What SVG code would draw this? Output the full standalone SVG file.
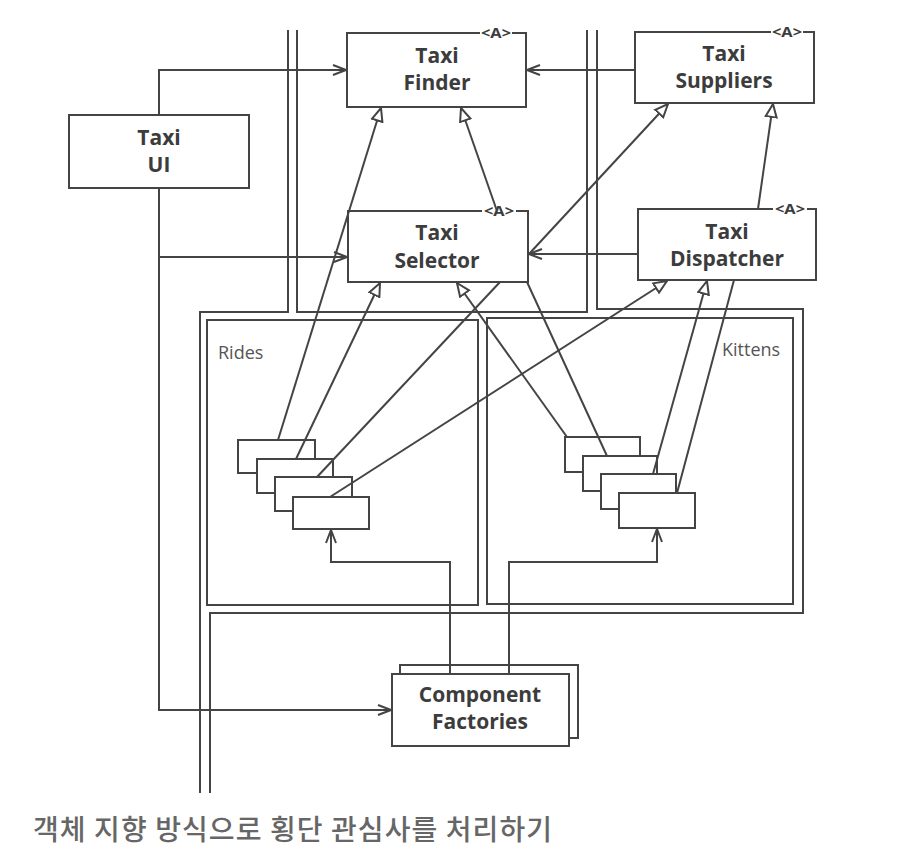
<svg xmlns="http://www.w3.org/2000/svg" width="914" height="868" viewBox="0 0 914 868">
<style>
.ln{fill:none;stroke:#444;stroke-width:2}
.box{fill:#fff;stroke:#444;stroke-width:2}
.t{font-family:"Open Sans","DejaVu Sans",sans-serif;font-weight:700;font-size:21px;fill:#3c3c3c;text-anchor:middle}
.a{font-size:14px}
.lab{font-family:"Open Sans","DejaVu Sans",sans-serif;font-size:18px;fill:#555}
.cap{font-family:"Noto Sans CJK KR","Noto Sans",sans-serif;font-size:28px;font-weight:500;fill:#666}
</style>
<defs>
<marker id="open" markerWidth="15" markerHeight="12" refX="14" refY="6" orient="auto" markerUnits="userSpaceOnUse"><path d="M1,1 L14,6 L1,11" fill="none" stroke="#444" stroke-width="2"/></marker>
<marker id="tri" markerWidth="16" markerHeight="14" refX="14" refY="7" orient="auto" markerUnits="userSpaceOnUse"><path d="M1,1.5 L14,7 L1,12.5 z" fill="#fff" stroke="#444" stroke-width="2"/></marker>
</defs>
<rect width="914" height="868" fill="#fff"/>
<g id="boundaries">
<path class="ln" d="M288,30 V312 H200 V793"/>
<path class="ln" d="M297,30 V312 H587 V30"/>
<path class="ln" d="M597,30 V309 H803 V613 H210 V793"/>
</g>
<g id="rides">
<rect class="box" x="207" y="320" width="271" height="285"/>
<text class="lab" x="218" y="359">Rides</text>
</g>
<g id="kittens">
<rect class="box" x="487" y="318" width="306" height="286"/>
<text class="lab" x="722" y="356">Kittens</text>
</g>
<g id="taxi-finder">
<path class="box" d="M480,33 H347 V107 H526 V33 H512"/>
<text class="t a" x="496" y="38" textLength="30" lengthAdjust="spacingAndGlyphs">&lt;A&gt;</text>
<text class="t" x="437" y="63">Taxi</text>
<text class="t" x="437" y="90">Finder</text>
</g>
<g id="taxi-suppliers">
<path class="box" d="M771,32 H635 V103 H814 V32 H803"/>
<text class="t a" x="787" y="37" textLength="30" lengthAdjust="spacingAndGlyphs">&lt;A&gt;</text>
<text class="t" x="724" y="61">Taxi</text>
<text class="t" x="724" y="88">Suppliers</text>
</g>
<g id="taxi-ui">
<rect class="box" x="69" y="115" width="180" height="73"/>
<text class="t" x="159" y="145">Taxi</text>
<text class="t" x="159" y="172">UI</text>
</g>
<g id="taxi-selector">
<path class="box" d="M482,211 H348 V282 H528 V211 H516"/>
<text class="t a" x="499" y="216" textLength="30" lengthAdjust="spacingAndGlyphs">&lt;A&gt;</text>
<text class="t" x="437" y="240">Taxi</text>
<text class="t" x="437" y="268">Selector</text>
</g>
<g id="taxi-dispatcher">
<path class="box" d="M773,209 H638 V280 H816 V209 H807"/>
<text class="t a" x="790" y="214" textLength="30" lengthAdjust="spacingAndGlyphs">&lt;A&gt;</text>
<text class="t" x="727" y="239">Taxi</text>
<text class="t" x="727" y="266">Dispatcher</text>
</g>
<g id="ride-components">
<rect class="box" x="238" y="440" width="77" height="33"/>
<rect class="box" x="257" y="459" width="76" height="34"/>
<rect class="box" x="275" y="477" width="77" height="34"/>
<rect class="box" x="293" y="497" width="76" height="32"/>
</g>
<g id="kitten-components">
<rect class="box" x="565" y="437" width="75" height="35"/>
<rect class="box" x="583" y="456" width="74" height="35"/>
<rect class="box" x="601" y="474" width="75" height="35"/>
<rect class="box" x="619" y="493" width="76" height="35"/>
</g>
<g id="component-factories">
<rect class="box" x="400" y="665" width="178" height="73"/>
<rect class="box" x="392" y="674" width="177" height="72"/>
<text class="t" x="480" y="702">Component</text>
<text class="t" x="480" y="729">Factories</text>
</g>
<g id="connectors">
<path class="ln" d="M159,115 V70 H346" marker-end="url(#open)"/>
<path class="ln" d="M635,70 H527" marker-end="url(#open)"/>
<path class="ln" d="M159,188 V710 H391" marker-end="url(#open)"/>
<path class="ln" d="M159,257 H347" marker-end="url(#open)"/>
<path class="ln" d="M638,254 H529" marker-end="url(#open)"/>
<path class="ln" d="M450,674 V562 H331 V530" marker-end="url(#open)"/>
<path class="ln" d="M509,674 V562 H657 V529" marker-end="url(#open)"/>
<path class="ln" d="M278,440 L381,108" marker-end="url(#tri)"/>
<path class="ln" d="M497,211 L461,108" marker-end="url(#tri)"/>
<path class="ln" d="M296,459 L380,283" marker-end="url(#tri)"/>
<path class="ln" d="M567,437 L457,283" marker-end="url(#tri)"/>
<path class="ln" d="M529,254 L668,104" marker-end="url(#tri)"/>
<path class="ln" d="M758,209 L773,104" marker-end="url(#tri)"/>
<path class="ln" d="M330,497 L667,281" marker-end="url(#tri)"/>
<path class="ln" d="M653,474 L707,281" marker-end="url(#tri)"/>
<path class="ln" d="M317,477 L500,282"/>
<path class="ln" d="M607,456 L527,282"/>
<path class="ln" d="M677,493 L734,280"/>
</g>
<text class="cap" x="33" y="840" textLength="519" lengthAdjust="spacing">객체 지향 방식으로 횡단 관심사를 처리하기</text>
</svg>
